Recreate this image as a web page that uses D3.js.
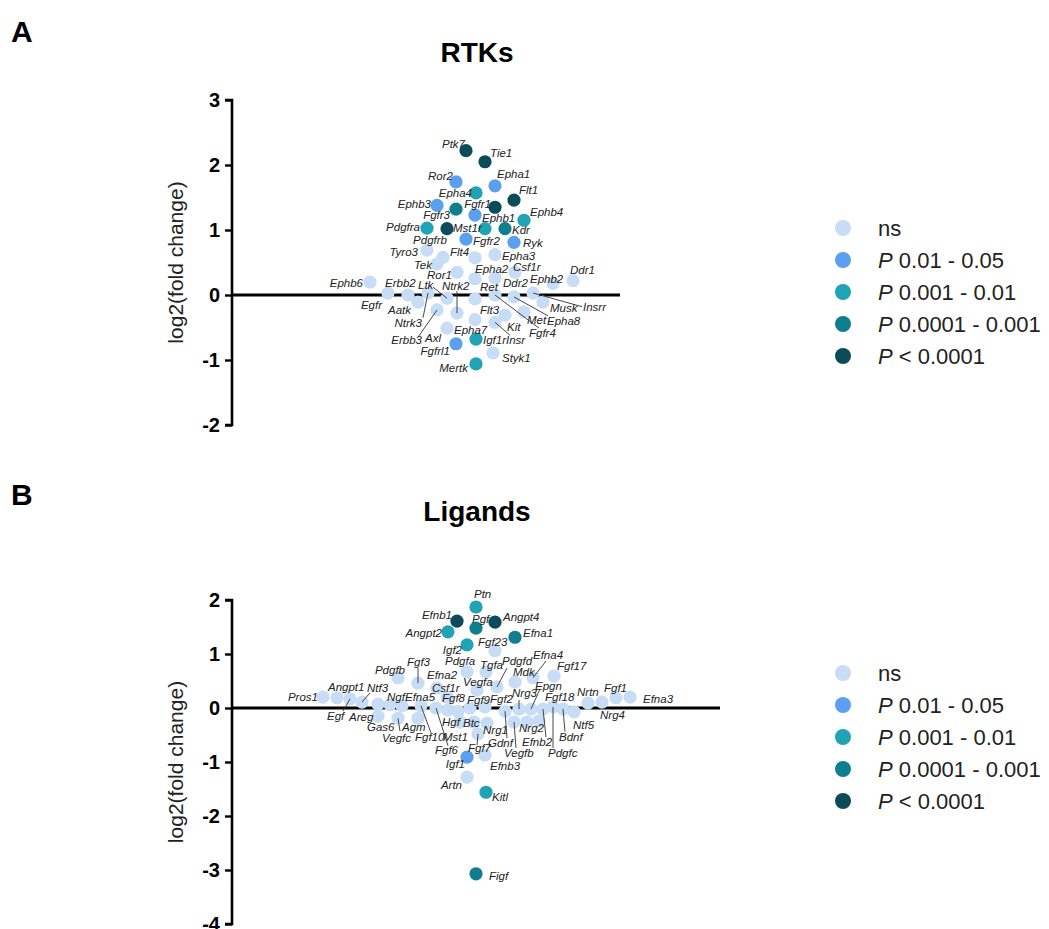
<!DOCTYPE html>
<html>
<head>
<meta charset="utf-8">
<script src="https://cdn.jsdelivr.net/npm/d3@7"></script>
<style>
  body { margin: 0; background: #fff; }
  text { font-family: "Liberation Sans", Arial, sans-serif; }
</style>
</head>
<body>
<div id="chart"></div>
<script>
const width = 1049;
const height = 929;

const pClasses = ["ns", "0.01 - 0.05", "0.001 - 0.01", "0.0001 - 0.001", "< 0.0001"];
const pColors = ["#c7dcf5", "#5b9ff0", "#20a3b4", "#0f7f8f", "#0b4b5a"];

// dots: [gene, swarm position, log2(fold change), p class]
const rtkDots = [
    ["Tyro3", 97.5, 0.69, 0], ["Flt3", 105.5, 0.58, 0], ["Tek", 102.5, 0.48, 0],
    ["Flt4", 121.5, 0.57, 0], ["Epha3", 131.5, 0.62, 0], ["Ror1", 112.5, 0.35, 0],
    ["Epha2", 121.5, 0.25, 0], ["Ddr2", 131.5, 0.26, 0], ["Csf1r", 141.5, 0.35, 0],
    ["Ephb6", 69, 0.2, 0], ["Ephb2", 160.5, 0.18, 0], ["Ddr1", 170.5, 0.22, 0],
    ["Erbb2", 78, 0.03, 0], ["Egfr", 88, 0.0, 0], ["Aatk", 93, -0.11, 0],
    ["Ntrk3", 98, 0.03, 0], ["Ltk", 107.5, -0.05, 0], ["Ret", 121.5, -0.06, 0],
    ["Fgfr4", 131.5, 0.0, 0], ["Epha8", 141, -0.03, 0], ["Insrr", 150.5, 0.03, 0],
    ["Musk", 155.5, -0.11, 0], ["Met", 146, -0.26, 0], ["Kit", 136.5, -0.31, 0],
    ["Insr", 131.5, -0.42, 0], ["Epha7", 121.5, -0.38, 0], ["Ntrk2", 112.5, -0.28, 0],
    ["Erbb3", 102.5, -0.23, 0], ["Axl", 107.5, -0.51, 0], ["Styk1", 130.5, -0.89, 0],
    ["Ptk7", 117, 2.22, 4], ["Tie1", 126.5, 2.05, 4], ["Ror2", 112, 1.74, 1],
    ["Epha1", 131.5, 1.68, 1], ["Epha4", 122, 1.57, 2], ["Flt1", 141, 1.46, 4],
    ["Ephb3", 102.5, 1.38, 1], ["Fgfr3", 112, 1.32, 3], ["Fgfr1", 131.5, 1.35, 4],
    ["Ephb1", 121.5, 1.23, 1], ["Ephb4", 146, 1.15, 2], ["Pdgfra", 97.5, 1.03, 2],
    ["Pdgfrb", 107.5, 1.02, 4], ["Mst1r", 126.5, 1.02, 2], ["Kdr", 136.5, 1.02, 3],
    ["Fgfr2", 117, 0.86, 1], ["Ryk", 141, 0.81, 1], ["Igf1r", 122, -0.68, 2],
    ["Fgfrl1", 112, -0.75, 1], ["Mertk", 122, -1.06, 2]
];

// labels: [text, swarm position, log2 value of baseline, anchor]
const rtkLabels = [
    ["Ptk7", 116.5, 2.26, "end"], ["Tie1", 129, 2.12, "start"], ["Ror2", 110.5, 1.77, "end"],
    ["Epha1", 132.5, 1.80, "start"], ["Epha4", 120, 1.51, "end"], ["Flt1", 143.5, 1.55, "start"],
    ["Ephb3", 99.5, 1.34, "end"], ["Fgfr1", 129.5, 1.34, "end"], ["Fgfr3", 109, 1.17, "end"],
    ["Ephb1", 125, 1.12, "start"], ["Ephb4", 149, 1.22, "start"], ["Pdgfra", 94, 0.98, "end"],
    ["Mst1r", 110.5, 0.97, "start"], ["Kdr", 140, 0.94, "start"], ["Pdgfrb", 107.5, 0.78, "end"],
    ["Fgfr2", 120.5, 0.77, "start"], ["Ryk", 145.5, 0.74, "start"], ["Tyro3", 93, 0.60, "end"],
    ["Flt4", 109, 0.60, "start"], ["Epha3", 135, 0.54, "start"], ["Tek", 100, 0.40, "end"],
    ["Epha2", 121.5, 0.34, "start"], ["Csf1r", 140.5, 0.37, "start"], ["Ddr1", 169, 0.32, "start"],
    ["Ror1", 110, 0.25, "end"], ["Ephb6", 65.5, 0.12, "end"], ["Erbb2", 76.5, 0.12, "start"],
    ["Ltk", 93, 0.09, "start"], ["Ntrk2", 105, 0.08, "start"], ["Ret", 124, 0.06, "start"],
    ["Ddr2", 135.5, 0.12, "start"], ["Ephb2", 149, 0.18, "start"], ["Egfr", 75, -0.22, "end"],
    ["Aatk", 78, -0.29, "start"], ["Flt3", 124, -0.29, "start"], ["Musk", 159, -0.26, "start"],
    ["Insrr", 175.5, -0.25, "start"], ["Met", 147.5, -0.45, "start"], ["Epha8", 157.5, -0.46, "start"],
    ["Ntrk3", 95, -0.49, "end"], ["Kit", 137.5, -0.55, "start"], ["Epha7", 111, -0.60, "start"],
    ["Fgfr4", 148.5, -0.65, "start"], ["Erbb3", 95, -0.75, "end"], ["Axl", 96.5, -0.72, "start"],
    ["Igf1r", 125.5, -0.75, "start"], ["Insr", 137, -0.75, "start"], ["Fgfrl1", 109, -0.92, "end"],
    ["Styk1", 135, -1.03, "start"], ["Mertk", 118, -1.18, "end"]
];

// leader lines: [gene, end swarm position, end log2 value]
const rtkLeaders = [
    ["Ltk", 100.5, 0.12], ["Ntrk2", 112.5, 0.06], ["Ntrk3", 95.5, -0.35], ["Erbb3", 93, -0.65],
    ["Insrr", 175, -0.18], ["Epha8", 158, -0.32], ["Fgfr4", 153.5, -0.51], ["Insr", 139, -0.62]
];

const ligandDots = [
    ["Fgf23", 131.5, 1.06, 0], ["Pdgfa", 117.5, 0.67, 0], ["Tgfa", 127, 0.67, 0],
    ["Pdgfd", 132.5, 0.39, 0], ["Mdk", 141.5, 0.48, 0], ["Efna4", 150.5, 0.56, 0],
    ["Fgf17", 161, 0.59, 0], ["Pdgfb", 83, 0.56, 0], ["Fgf3", 93, 0.46, 0],
    ["Efna2", 102.5, 0.37, 0], ["Vegfa", 122.5, 0.33, 0], ["Csf1r", 107.5, 0.2, 0],
    ["Efnb3", 126.5, -0.87, 0], ["Artn", 117.5, -1.28, 0], ["Pros1", 45.5, 0.2, 0],
    ["Angpt1", 52.5, 0.19, 0], ["Egf", 59, 0.17, 0], ["Ntf3", 65, 0.11, 0],
    ["Areg", 73, 0.07, 0], ["Gas6", 73, -0.15, 0], ["Ngf", 79, 0.06, 0],
    ["Agm", 83, -0.19, 0], ["Vegfc", 85, 0.04, 0], ["Fgf10", 94.5, 0.04, 0],
    ["Efna5", 93, -0.19, 0], ["Fgf6", 102, 0.0, 0], ["Fgf8", 108, -0.04, 0],
    ["Hgf", 113, -0.06, 0], ["Fgf9", 119, 0.0, 0], ["Mst1", 114, -0.26, 0],
    ["Btc", 121, -0.26, 0], ["Fgf7", 123, -0.48, 0], ["Fgf2", 126.5, 0.02, 0],
    ["Nrg1", 127.5, -0.28, 0], ["Gdnf", 136.5, -0.06, 0], ["Vegfb", 141, -0.26, 0],
    ["Nrg2", 147.5, -0.26, 0], ["Fgf18", 153.5, -0.24, 0], ["Nrg3", 143.5, -0.02, 0],
    ["Epgn", 149.5, -0.02, 0], ["Efnb2", 155.5, -0.02, 0], ["Pdgfc", 160.5, 0.02, 0],
    ["Bdnf", 165.5, -0.02, 0], ["Ntf5", 171, -0.07, 0], ["Nrtn", 178, 0.09, 0],
    ["Nrg4", 185, 0.11, 0], ["Fgf1", 192, 0.19, 0], ["Efna3", 199, 0.2, 0],
    ["Ptn", 122, 1.87, 2], ["Efnb1", 112.5, 1.61, 4], ["Pgf", 122, 1.48, 3],
    ["Angpt4", 131.5, 1.59, 4], ["Angpt2", 108, 1.41, 2], ["Efna1", 141.5, 1.31, 3],
    ["Igf2", 117.5, 1.17, 2], ["Igf1", 117.5, -0.91, 1], ["Kitl", 127, -1.56, 2],
    ["Figf", 122, -3.07, 3]
];

const ligandLabels = [
    ["Ptn", 121, 2.04, "start"], ["Efnb1", 110, 1.65, "end"], ["Pgf", 120, 1.57, "start"],
    ["Angpt4", 135.5, 1.61, "start"], ["Angpt2", 105, 1.31, "end"], ["Efna1", 145.5, 1.31, "start"],
    ["Igf2", 115, 1.0, "end"], ["Fgf23", 123, 1.15, "start"], ["Pdgfb", 86.5, 0.63, "end"],
    ["Fgf3", 87.5, 0.78, "start"], ["Pdgfa", 106.5, 0.80, "start"], ["Tgfa", 124, 0.72, "start"],
    ["Pdgfd", 135, 0.80, "start"], ["Efna4", 150.5, 0.91, "start"], ["Mdk", 140.5, 0.59, "start"],
    ["Fgf17", 162.5, 0.70, "start"], ["Efna2", 97.5, 0.54, "start"], ["Vegfa", 115.5, 0.41, "start"],
    ["Csf1r", 100, 0.30, "start"], ["Epgn", 151.5, 0.33, "start"], ["Nrg3", 140, 0.20, "start"],
    ["Fgf18", 156.5, 0.13, "start"], ["Nrtn", 172.5, 0.22, "start"], ["Fgf1", 186, 0.30, "start"],
    ["Efna3", 205.5, 0.09, "start"], ["Pros1", 43, 0.13, "end"], ["Angpt1", 48, 0.31, "start"],
    ["Ntf3", 67.5, 0.30, "start"], ["Ngf", 77.5, 0.13, "start"], ["Efna5", 86.5, 0.13, "start"],
    ["Fgf8", 105, 0.11, "start"], ["Fgf9", 117.5, 0.07, "start"], ["Fgf2", 129, 0.09, "start"],
    ["Nrg4", 184, -0.20, "start"], ["Egf", 47.5, -0.22, "start"], ["Areg", 58.5, -0.24, "start"],
    ["Gas6", 67.5, -0.43, "start"], ["Agm", 85, -0.43, "start"], ["Vegfc", 75, -0.63, "start"],
    ["Fgf10", 91.5, -0.61, "start"], ["Hgf", 105, -0.33, "start"], ["Btc", 115.5, -0.35, "start"],
    ["Mst1", 105.5, -0.61, "start"], ["Nrg1", 125.5, -0.48, "start"], ["Nrg2", 143.5, -0.44, "start"],
    ["Ntf5", 170.5, -0.39, "start"], ["Gdnf", 128, -0.72, "start"], ["Efnb2", 145, -0.70, "start"],
    ["Bdnf", 163.5, -0.61, "start"], ["Fgf6", 101.5, -0.85, "start"], ["Fgf7", 118, -0.81, "start"],
    ["Vegfb", 136, -0.91, "start"], ["Pdgfc", 158, -0.91, "start"], ["Igf1", 116.5, -1.11, "end"],
    ["Efnb3", 129, -1.15, "start"], ["Artn", 115, -1.50, "end"], ["Kitl", 130, -1.72, "start"],
    ["Figf", 128.5, -3.19, "start"]
];

const ligandLeaders = [
    ["Pdgfd", 137.5, 0.74], ["Efna4", 157, 0.87], ["Epgn", 154, 0.35], ["Nrg3", 143.5, 0.15],
    ["Fgf3", 93, 0.74], ["Efnb2", 157, -0.54], ["Pdgfc", 160.5, -0.74], ["Bdnf", 166.5, -0.44],
    ["Gdnf", 137.5, -0.56], ["Vegfb", 142, -0.74], ["Fgf10", 99.5, -0.46], ["Fgf6", 108, -0.70],
    ["Agm", 84, -0.43], ["Fgf7", 122.5, -0.69], ["Egf", 55.5, -0.06], ["Ntf3", 69, 0.28]
];

const rtkTicks = [3, 2, 1, 0, -1, -2];
const ligandTicks = [2, 1, 0, -1, -2, -3, -4];

const svg = d3.select("#chart").append("svg")
    .attr("width", width)
    .attr("height", height);

function drawPanel(cfg) {
    const g = svg.append("g");

    const x = d3.scaleLinear().domain(cfg.xDomain).range([232, cfg.xEnd]);
    const y = d3.scaleLinear().domain(d3.extent(cfg.ticks)).range([cfg.bottom, cfg.top]);

    g.append("text")
        .attr("x", 11).attr("y", cfg.letterY)
        .style("font-size", "30px").style("font-weight", "bold")
        .text(cfg.letter);

    g.append("text")
        .attr("x", 477).attr("y", cfg.titleY)
        .attr("text-anchor", "middle")
        .style("font-size", "28px").style("font-weight", "bold")
        .text(cfg.title);

    const axis = g.append("g")
        .attr("transform", "translate(232,0)")
        .call(d3.axisLeft(y).tickValues(cfg.ticks).tickSize(7).tickPadding(5).tickFormat(d => String(d)));
    axis.select(".domain").attr("stroke-width", 2.6).attr("d", `M-7,${y(cfg.ticks[0])}H0V${y(cfg.ticks[cfg.ticks.length - 1])}H-7`);
    axis.selectAll(".tick line").attr("stroke-width", 2.4);
    axis.selectAll(".tick text")
        .style("font-size", "20px").style("font-weight", "bold")
        .style("font-family", "'Liberation Sans', Arial, sans-serif");

    g.append("text")
        .attr("transform", `translate(183,${(cfg.top + cfg.bottom) / 2}) rotate(-90)`)
        .attr("text-anchor", "middle")
        .style("font-size", "21px").style("fill", "#222")
        .text("log2(fold change)");

    g.append("line")
        .attr("x1", x(cfg.xDomain[0])).attr("x2", x(cfg.xDomain[1]))
        .attr("y1", y(0)).attr("y2", y(0))
        .attr("stroke", "#000").attr("stroke-width", 3);

    const byName = new Map(cfg.dots.map(d => [d[0], d]));

    g.append("g").selectAll("circle")
        .data(cfg.dots)
        .join("circle")
        .attr("cx", d => x(d[1]))
        .attr("cy", d => y(d[2]))
        .attr("r", 6.6)
        .attr("fill", d => pColors[d[3]]);

    g.append("g").selectAll("line")
        .data(cfg.leaders)
        .join("line")
        .attr("x1", d => x(byName.get(d[0])[1]))
        .attr("y1", d => y(byName.get(d[0])[2]))
        .attr("x2", d => x(d[1]))
        .attr("y2", d => y(d[2]))
        .attr("stroke", "#333")
        .attr("stroke-width", 0.9);

    g.append("g").selectAll("text")
        .data(cfg.labels)
        .join("text")
        .attr("x", d => x(d[1]))
        .attr("y", d => y(d[2]))
        .attr("text-anchor", d => d[3])
        .style("font-size", "11.5px")
        .style("font-style", "italic")
        .style("fill", "#222")
        .text(d => d[0]);

    const legend = g.append("g").selectAll("g")
        .data(pClasses)
        .join("g")
        .attr("transform", (d, i) => `translate(843,${cfg.legendY + i * 32})`);
    legend.append("circle").attr("r", 8).attr("fill", (d, i) => pColors[i]);
    const lt = legend.append("text")
        .attr("x", 35).attr("dy", "0.36em")
        .style("font-size", "22px").style("fill", "#222");
    lt.filter((d, i) => i > 0).append("tspan").style("font-style", "italic").text("P");
    lt.append("tspan").text((d, i) => (i > 0 ? " " : "") + d);
}

drawPanel({
    letter: "A", letterY: 42, title: "RTKs", titleY: 62,
    ticks: rtkTicks, top: 100, bottom: 425,
    xDomain: [0, 194], xEnd: 620,
    dots: rtkDots, labels: rtkLabels, leaders: rtkLeaders,
    legendY: 228
});

drawPanel({
    letter: "B", letterY: 505, title: "Ligands", titleY: 521,
    ticks: ligandTicks, top: 600, bottom: 924,
    xDomain: [0, 244], xEnd: 720,
    dots: ligandDots, labels: ligandLabels, leaders: ligandLeaders,
    legendY: 673
});
</script>
</body>
</html>
